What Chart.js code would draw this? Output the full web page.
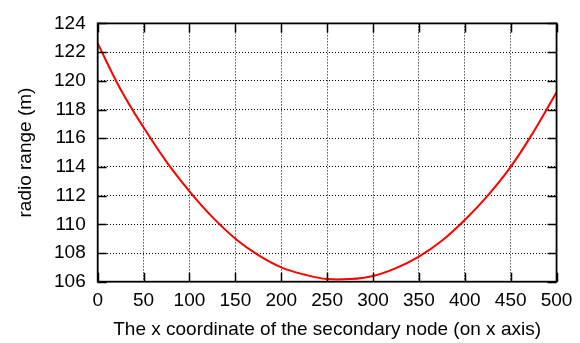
<!DOCTYPE html>
<html>
<head>
<meta charset="utf-8">
<script src="https://cdn.jsdelivr.net/npm/chart.js@4/dist/chart.umd.min.js"></script>
<style>
  html, body { margin: 0; padding: 0; background: #fff; }
  canvas { display: block; }
</style>
</head>
<body>
<canvas id="c" width="580" height="343"></canvas>
<script>
// Data
const xPositions = [0, 25, 50, 75, 100, 125, 150, 175, 200, 225, 250, 275, 300, 325, 350, 375, 400, 425, 450, 475, 500];
const radioRange = [122.6, 119.4, 116.75, 114.35, 112.3, 110.5, 109.0, 107.85, 107.0, 106.5, 106.18, 106.18, 106.4, 106.95, 107.75, 108.85, 110.3, 112.0, 114.0, 116.45, 119.2];
const xTicks = [0, 50, 100, 150, 200, 250, 300, 350, 400, 450, 500];
const yTicks = [106, 108, 110, 112, 114, 116, 118, 120, 122, 124];
const xTitle = 'The x coordinate of the secondary node (on x axis)';
const yTitle = 'radio range (m)';

const FONT = '"Liberation Sans", Arial, Helvetica, sans-serif';

const framePlugin = {
  id: 'frame',
  afterDatasetsDraw(chart) {
    const ctx = chart.ctx;
    const a = chart.chartArea;
    const xs = chart.scales.x, ys = chart.scales.y;
    const tl = 9;
    ctx.save();
    ctx.strokeStyle = '#000';
    ctx.lineWidth = 1.5;
    ctx.beginPath();
    xTicks.forEach(v => {
      const px = Math.round(xs.getPixelForValue(v)) + 0.5;
      ctx.moveTo(px, a.bottom); ctx.lineTo(px, a.bottom - tl);
      ctx.moveTo(px, a.top); ctx.lineTo(px, a.top + tl);
    });
    yTicks.forEach(v => {
      const py = Math.round(ys.getPixelForValue(v)) + 0.5;
      ctx.moveTo(a.left, py); ctx.lineTo(a.left + tl, py);
      ctx.moveTo(a.right, py); ctx.lineTo(a.right - tl, py);
    });
    ctx.stroke();
    ctx.lineWidth = 1.8;
    ctx.strokeRect(a.left, a.top, a.right - a.left, a.bottom - a.top);
    ctx.restore();
  }
};

new Chart(document.getElementById('c'), {
  type: 'line',
  data: {
    datasets: [{
      data: xPositions.map((x, i) => ({ x: x, y: radioRange[i] })),
      borderColor: '#ff0000',
      borderWidth: 2,
      pointRadius: 0,
      fill: false,
      tension: 0.4
    }]
  },
  options: {
    responsive: false,
    animation: false,
    devicePixelRatio: 1,
    layout: { padding: { top: 16, right: 20.7, left: 0, bottom: 0 } },
    plugins: { legend: { display: false }, tooltip: { enabled: false } },
    scales: {
      x: {
        type: 'linear',
        min: 0, max: 500,
        afterBuildTicks(scale) { scale.ticks = xTicks.map(v => ({ value: v })); },
        afterFit(scale) { scale.height = 61.3; },
        ticks: {
          color: '#000',
          padding: 7.6,
          maxRotation: 0,
          autoSkip: false,
          font: { family: FONT, size: 19 }
        },
        grid: { color: '#000', lineWidth: 1, drawTicks: false },
        border: { display: false, dash: [1, 2] },
        title: {
          display: true, text: xTitle, color: '#000',
          font: { family: FONT, size: 19 },
          padding: { top: 0, bottom: 1.5 }
        }
      },
      y: {
        type: 'linear',
        min: 106, max: 124,
        afterBuildTicks(scale) { scale.ticks = yTicks.map(v => ({ value: v })); },
        afterFit(scale) { scale.width = 97.7; },
        ticks: {
          color: '#000',
          padding: 12,
          autoSkip: false,
          font: { family: FONT, size: 19 }
        },
        grid: { color: '#000', lineWidth: 1, drawTicks: false },
        border: { display: false, dash: [1, 2] },
        title: {
          display: true, text: yTitle, color: '#000',
          font: { family: FONT, size: 19 },
          padding: { top: 14.5, bottom: 0 }
        }
      }
    }
  },
  plugins: [framePlugin]
});
</script>
</body>
</html>
